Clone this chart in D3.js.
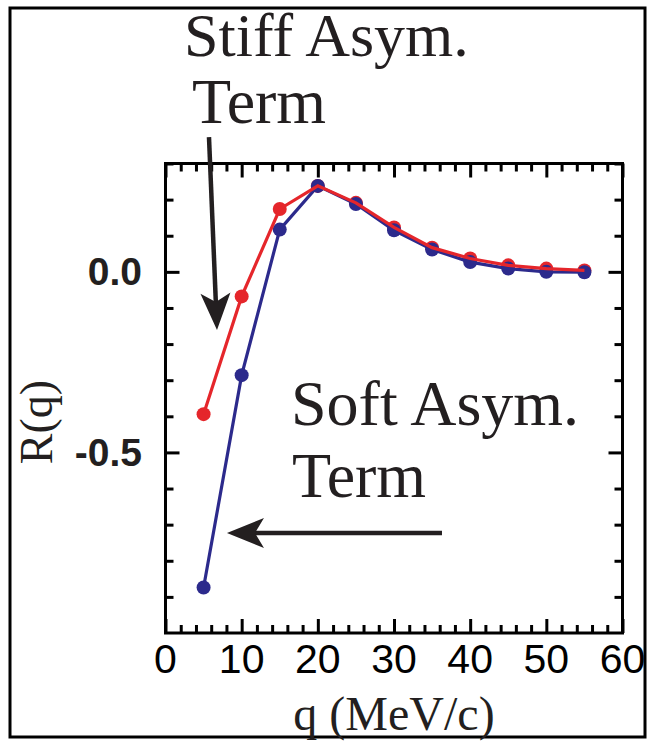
<!DOCTYPE html>
<html>
<head>
<meta charset="utf-8">
<script src="https://cdn.jsdelivr.net/npm/d3@7"></script>
<style>
  body { margin: 0; background: #fff; }
  .serif { font-family: "Liberation Serif", "Times New Roman", serif; fill: #231f20; }
</style>
</head>
<body>
<div id="chart"></div>
<script>
// q values (MeV/c) and R(q) for both asymmetry terms
let qValues = [5, 10, 15, 20, 25, 30, 35, 40, 45, 50, 55];
let stiffR = [-0.394, -0.068, 0.174, 0.238, 0.191, 0.123, 0.067, 0.037, 0.018, 0.009, 0.004];
let softR = [-0.874, -0.286, 0.117, 0.238, 0.188, 0.115, 0.062, 0.027, 0.009, 0.000, -0.001];

let xMajor = [0, 10, 20, 30, 40, 50, 60];
let yMajor = [0.0, -0.5];
let yLabels = ['0.0', '-0.5'];

let width = 657, height = 741;
let pLeft = 165.5, pRight = 622.5, pTop = 163.5, pBottom = 633;

let svg = d3.select('#chart').append('svg')
    .attr('width', width)
    .attr('height', height);

// outer frame
svg.append('rect')
    .attr('x', 10).attr('y', 8)
    .attr('width', 635).attr('height', 729)
    .attr('fill', 'none')
    .attr('stroke', '#000')
    .attr('stroke-width', 3);

let x = d3.scaleLinear().domain([0, 60]).range([pLeft, pRight]);
let y = d3.scaleLinear().domain([-1.0, 0.3]).range([pBottom, pTop]);

let xMinor = d3.range(0, 61, 2).filter(d => d % 10 != 0);
let yMinor = d3.range(-10, 4).map(d => d / 10).filter(d => d != 0 && d != -0.5 && d != -1);

function styleAxis(g) {
    g.select('.domain').remove();
    g.selectAll('line').attr('stroke', '#000').attr('stroke-width', 3);
}

// ticks point inward on all four sides
svg.append('g').attr('transform', `translate(0,${pBottom})`)
    .call(d3.axisBottom(x).tickValues(xMajor).tickSize(-14).tickFormat(''))
    .call(styleAxis);
svg.append('g').attr('transform', `translate(0,${pBottom})`)
    .call(d3.axisBottom(x).tickValues(xMinor).tickSize(-8).tickFormat(''))
    .call(styleAxis);
svg.append('g').attr('transform', `translate(0,${pTop})`)
    .call(d3.axisTop(x).tickValues(xMajor).tickSize(-14).tickFormat(''))
    .call(styleAxis);
svg.append('g').attr('transform', `translate(0,${pTop})`)
    .call(d3.axisTop(x).tickValues(xMinor).tickSize(-8).tickFormat(''))
    .call(styleAxis);
svg.append('g').attr('transform', `translate(${pLeft},0)`)
    .call(d3.axisLeft(y).tickValues(yMajor).tickSize(-14).tickFormat(''))
    .call(styleAxis);
svg.append('g').attr('transform', `translate(${pLeft},0)`)
    .call(d3.axisLeft(y).tickValues(yMinor).tickSize(-8).tickFormat(''))
    .call(styleAxis);
svg.append('g').attr('transform', `translate(${pRight},0)`)
    .call(d3.axisRight(y).tickValues(yMajor).tickSize(-14).tickFormat(''))
    .call(styleAxis);
svg.append('g').attr('transform', `translate(${pRight},0)`)
    .call(d3.axisRight(y).tickValues(yMinor).tickSize(-8).tickFormat(''))
    .call(styleAxis);

svg.append('rect')
    .attr('x', pLeft).attr('y', pTop)
    .attr('width', pRight - pLeft).attr('height', pBottom - pTop)
    .attr('fill', 'none')
    .attr('stroke', '#000')
    .attr('stroke-width', 3);

// tick labels
svg.selectAll('.xlab').data(xMajor).enter()
    .append('text')
    .attr('class', 'xlab')
    .attr('x', d => x(d))
    .attr('y', 673)
    .attr('text-anchor', 'middle')
    .style('font-family', '"Liberation Sans", Arial, sans-serif')
    .style('font-size', '41px')
    .style('fill', '#000')
    .text(d => d);

svg.selectAll('.ylab').data(yMajor).enter()
    .append('text')
    .attr('class', 'ylab')
    .attr('x', 142)
    .attr('y', d => y(d) + 13.5)
    .attr('text-anchor', 'end')
    .style('font-family', '"Liberation Sans", Arial, sans-serif')
    .style('font-weight', 'bold')
    .style('font-size', '39px')
    .style('fill', '#231f20')
    .text((d, i) => yLabels[i]);

// axis titles
svg.append('text')
    .attr('class', 'serif')
    .attr('x', x(30))
    .attr('y', 730)
    .attr('text-anchor', 'middle')
    .style('font-size', '48px')
    .text('q (MeV/c)');

svg.append('text')
    .attr('class', 'serif')
    .attr('transform', 'translate(52,422) rotate(-90)')
    .attr('text-anchor', 'middle')
    .style('font-size', '46px')
    .text('R(q)');

// series
let line = d3.line().x((d, i) => x(qValues[i])).y(d => y(d));

function drawMarkers(vals, color) {
    svg.append('g').selectAll('circle').data(vals).enter()
        .append('circle')
        .attr('cx', (d, i) => x(qValues[i]))
        .attr('cy', d => y(d))
        .attr('r', 7)
        .attr('fill', color);
}

let red = '#e5262b', blue = '#2c2a8c';

drawMarkers(stiffR, red);
svg.append('path').datum(softR)
    .attr('d', line)
    .attr('fill', 'none')
    .attr('stroke', blue)
    .attr('stroke-width', 3.2);
drawMarkers(softR, blue);
svg.append('path').datum(stiffR)
    .attr('d', line)
    .attr('fill', 'none')
    .attr('stroke', red)
    .attr('stroke-width', 3.2);

// annotation arrows, given in data units
let arrows = [
    { from: [5.71, 0.373], to: [6.76, -0.161] },
    { from: [36.3, -0.723], to: [8.07, -0.723] }
];

arrows.forEach(a => {
    let x0 = x(a.from[0]), y0 = y(a.from[1]);
    let x1 = x(a.to[0]), y1 = y(a.to[1]);
    let dx = x1 - x0, dy = y1 - y0;
    let len = Math.sqrt(dx * dx + dy * dy);
    let ux = dx / len, uy = dy / len;
    let px = -uy, py = ux;
    let headLen = 37, halfW = 15, notch = 9;
    let bx = x1 - ux * headLen, by = y1 - uy * headLen;

    svg.append('line')
        .attr('x1', x0).attr('y1', y0)
        .attr('x2', bx + ux * notch).attr('y2', by + uy * notch)
        .attr('stroke', '#231f20')
        .attr('stroke-width', 4.5);

    let pts = [
        [x1, y1],
        [bx + px * halfW, by + py * halfW],
        [bx + ux * notch, by + uy * notch],
        [bx - px * halfW, by - py * halfW]
    ];
    svg.append('path')
        .attr('d', 'M' + pts.map(p => p.join(',')).join('L') + 'Z')
        .attr('fill', '#231f20');
});

// annotation text
let notes = [
    { text: 'Stiff Asym.', x: 184, y: 56, size: 62 },
    { text: 'Term', x: 192, y: 123, size: 64 },
    { text: 'Soft Asym.', x: 291, y: 425, size: 64 },
    { text: 'Term', x: 292, y: 497, size: 64 }
];

svg.selectAll('.note').data(notes).enter()
    .append('text')
    .attr('class', 'note serif')
    .attr('x', d => d.x)
    .attr('y', d => d.y)
    .style('font-size', d => d.size + 'px')
    .text(d => d.text);
</script>
</body>
</html>
